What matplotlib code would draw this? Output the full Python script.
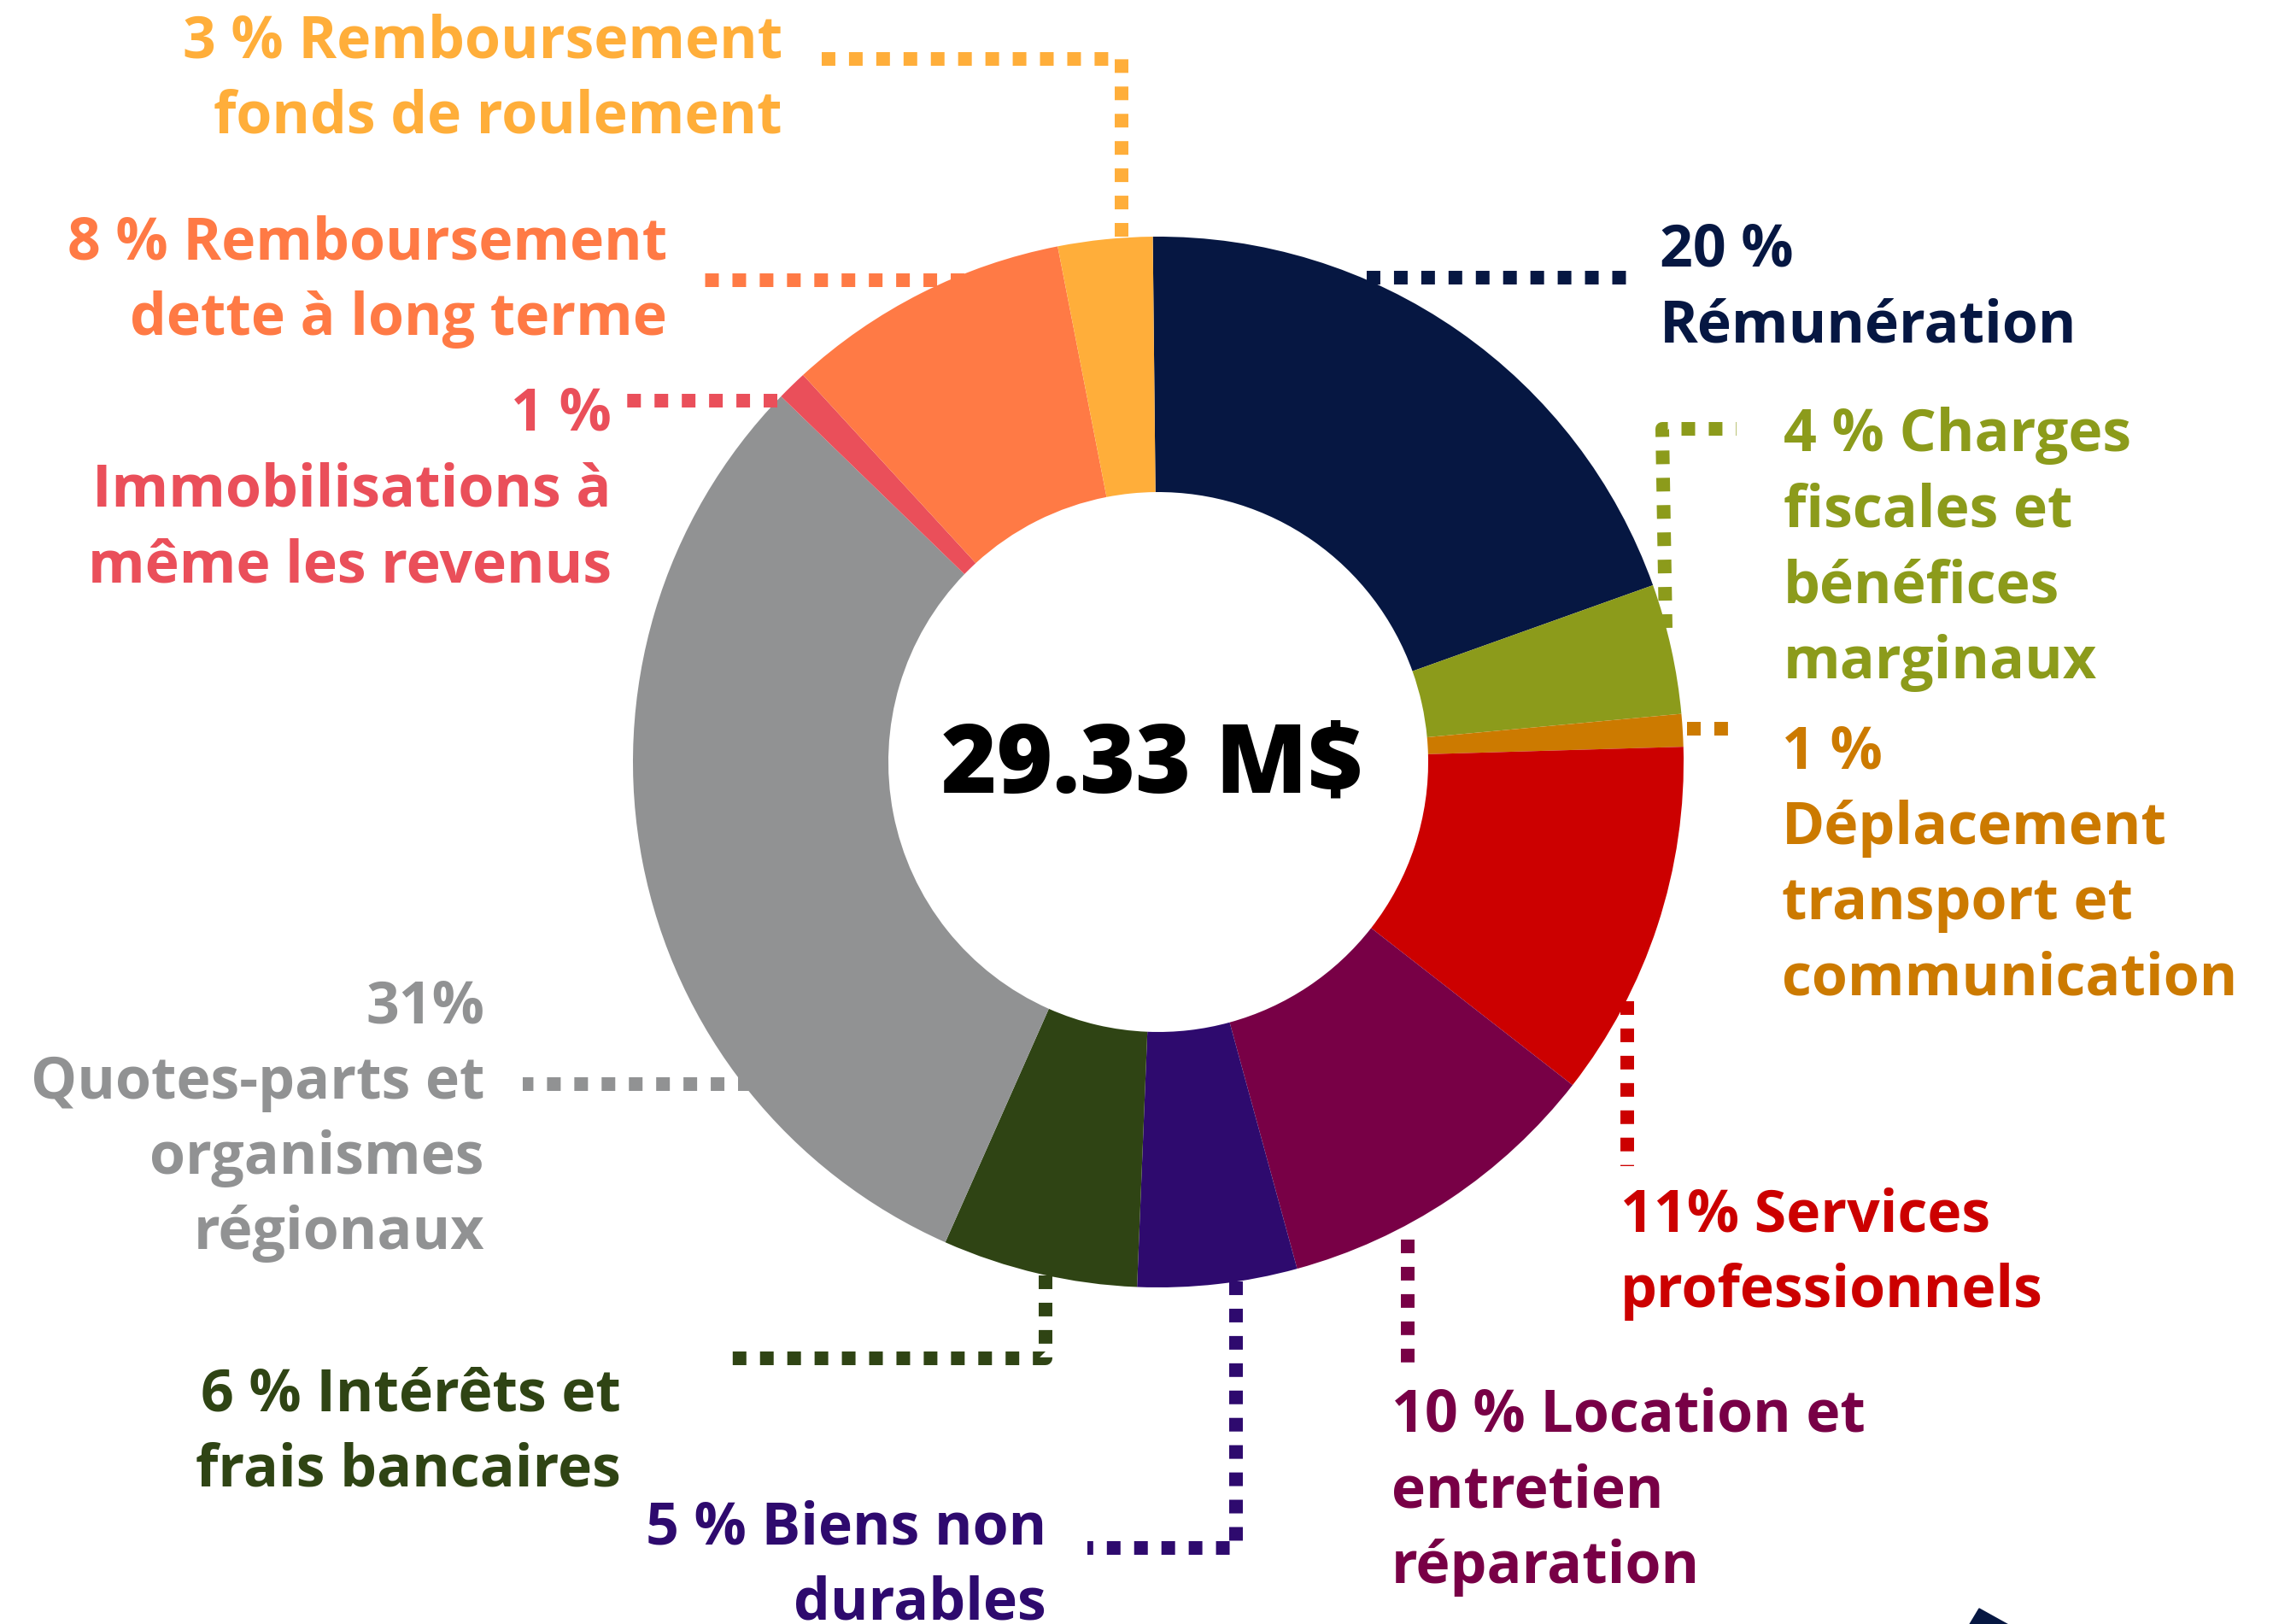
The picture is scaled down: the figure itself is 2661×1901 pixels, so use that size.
import matplotlib.pyplot as plt
from matplotlib.patches import Polygon

plt.rcParams['font.family'] = ['Open Sans', 'DejaVu Sans']

categories = ['Rémunération', 'Charges fiscales et bénéfices marginaux',
              'Déplacement transport et communication', 'Services professionnels',
              'Location et entretien réparation', 'Biens non durables',
              'Intérêts et frais bancaires', 'Quotes-parts et organismes régionaux',
              'Immobilisations à même les revenus', 'Remboursement dette à long terme',
              'Remboursement fonds de roulement']
shares = [19.7, 4.0, 1.0, 11.0, 10.2, 4.9, 6.0, 30.6, 0.93, 8.75, 2.9]
labels = ['20 %\nRémunération',
          '4 % Charges\nfiscales et\nbénéfices\nmarginaux',
          '1 %\nDéplacement\ntransport et\ncommunication',
          '11% Services\nprofessionnels',
          '10 % Location et\nentretien\nréparation',
          '5 % Biens non\ndurables',
          '6 % Intérêts et\nfrais bancaires',
          '31%\nQuotes-parts et\norganismes\nrégionaux',
          '1 %\nImmobilisations à\nmême les revenus',
          '8 % Remboursement\ndette à long terme',
          '3 % Remboursement\nfonds de roulement']
total_label = '29.33 M\\$'

colors = ['#061742', '#8C9B1B', '#CC7A00', '#CC0000', '#780046', '#2E0A6E',
          '#2F4414', '#919293', '#EA4F5A', '#FF7A45', '#FFAE3A']

# layout in pixels (y measured from the top of the image)
W, H = 2661, 1901
cx, cy, r_out, r_in = 1356, 892, 615, 316
line_h = 88.5
label_pos = [(1943, 312, 'left'), (2088, 528, 'left'), (2086, 899, 'left'),
             (1897, 1442, 'left'), (1629, 1676, 'left'), (1225, 1807, 'right'),
             (727, 1651, 'right'), (567, 1197, 'right'), (716, 504, 'right'),
             (781, 304, 'right'), (916, 67, 'right')]
leaders = [[(1600, 325), (1905, 325)],
           [(1950, 735), (1946, 502), (2033, 502)],
           [(1975, 853), (2033, 853)],
           [(1905, 1172), (1905, 1365)],
           [(1648, 1451), (1648, 1595)],
           [(1447, 1500), (1447, 1812), (1273, 1812)],
           [(1224, 1493), (1224, 1590), (852, 1590)],
           [(880, 1269), (612, 1269)],
           [(910, 469), (733, 469)],
           [(1129, 328), (812, 328)],
           [(1313, 277), (1313, 69), (946, 69)]]

fig = plt.figure(figsize=(W / 100, H / 100), dpi=100)
ax = fig.add_axes([0, 0, 1, 1])

ax.pie(shares, colors=colors, startangle=-90.6, counterclock=True,
       radius=r_out, center=(cx, cy),
       wedgeprops=dict(width=r_out - r_in, linewidth=0.6, edgecolor='none'))

for path, c in zip(leaders, colors):
    xs = [p[0] for p in path]
    ys = [p[1] for p in path]
    ax.plot(xs, ys, color=c, linewidth=11.5, linestyle=(0, (1, 1)),
            dash_capstyle='butt', solid_joinstyle='miter', zorder=3)

for text, (x, y0, ha), c in zip(labels, label_pos, colors):
    for i, line in enumerate(text.split('\n')):
        ax.text(x, y0 + i * line_h, line, ha=ha, va='baseline', fontsize=49,
                fontweight='bold', color=c, zorder=4)

ax.text(1349, 928, total_label, ha='center', va='baseline', fontsize=80,
        fontweight='heavy', color='black', zorder=4)

# corner of a navy decoration cut off at the bottom right
ax.add_patch(Polygon([(2317, 1883), (2497, 1983), (2437, 2083), (2257, 1983)],
                     closed=True, color='#061742', zorder=2))

ax.set_xlim(0, W)
ax.set_ylim(H, 0)
ax.set_aspect('equal')
ax.axis('off')

fig.savefig('out.png', dpi=100, facecolor='white')
